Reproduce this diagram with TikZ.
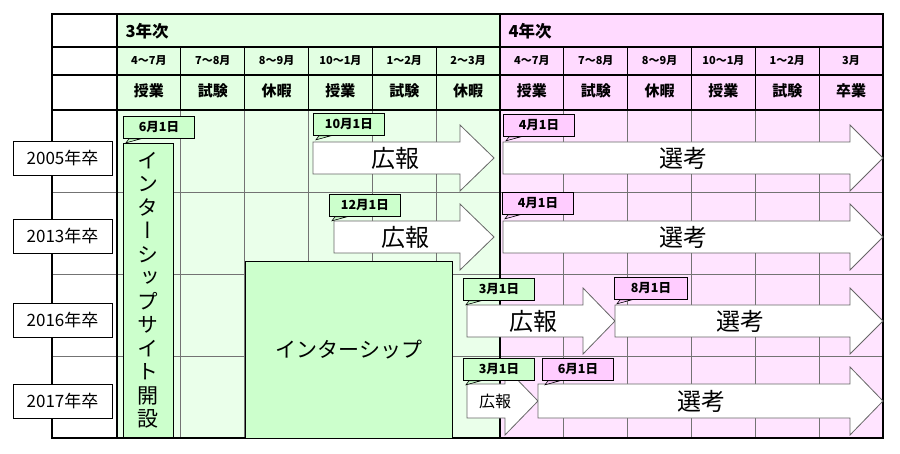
\documentclass[tikz,border=0pt]{standalone}
\usepackage{fontspec}
\setmainfont{Noto Sans CJK JP}
\newfontfamily\vfont[RawFeature=+vert]{Noto Sans CJK JP}
\usetikzlibrary{calc}

\definecolor{grnhead}{RGB}{226,255,226}
\definecolor{grnbody}{RGB}{234,255,234}
\definecolor{pnkhead}{RGB}{255,218,255}
\definecolor{pnkbody}{RGB}{255,228,255}
\definecolor{grnbox}{RGB}{204,255,204}
\definecolor{pnkbox}{RGB}{255,204,255}

\begin{document}
\begin{tikzpicture}[x=1pt,y=-1pt,
    hline/.style={line width=1.2pt},
    gline/.style={black!55,line width=0.7pt},
    arrowbox/.style={draw=black!60,fill=white,line width=0.8pt},
    tag/.style={draw=black,line width=0.8pt,minimum width=71pt,minimum height=22pt,inner sep=0pt,anchor=north west,font=\fontsize{12.5}{13}\selectfont\bfseries},
    tagg/.style={tag,fill=grnbox},
    tagp/.style={tag,fill=pnkbox},
    yearbox/.style={draw=black,fill=white,line width=0.8pt,minimum width=99pt,minimum height=34pt,inner sep=0pt,font=\fontsize{17}{19}\selectfont},
    bigtext/.style={font=\fontsize{24}{26}\selectfont}]
    \useasboundingbox (0,0) rectangle (900,454);

    % backgrounds
    \fill[grnhead] (117,14) rectangle (500,110);
    \fill[grnbody] (117,110) rectangle (500,438);
    \fill[pnkhead] (500,14) rectangle (883,110);
    \fill[pnkbody] (500,110) rectangle (883,438);

    % grid of the year rows
    \foreach \i in {1,...,11}
        \draw[gline] ({117+63.833*\i},110) -- ({117+63.833*\i},438);
    \foreach \y in {192,274,356}
        \draw[gline] (52,\y) -- (883,\y);

    % header lines
    \foreach \y in {47,75,110}
        \draw[hline] (52,\y) -- (883,\y);
    \foreach \i in {1,...,11}
        \draw[hline] ({117+63.833*\i},47) -- ({117+63.833*\i},110);
    \draw[hline] (117,14) -- (117,438);
    \draw[hline] (500,14) -- (500,438);
    \draw[hline] (52,14) rectangle (883,438);

    \node[anchor=west,font=\fontsize{16.5}{18}\selectfont\bfseries] (yr3) at (122,31) {3年次};
    \node[anchor=west,font=\fontsize{16.5}{18}\selectfont\bfseries] (yr4) at (505,31) {4年次};
    \foreach \m [count=\i] in {4〜7月,7〜8月,8〜9月,10〜1月,1〜2月,2〜3月,4〜7月,7〜8月,8〜9月,10〜1月,1〜2月,3月}
        \node[font=\fontsize{11}{12}\selectfont\bfseries] (mon\i) at ({117+63.833*(\i-0.5)},61) {\m};
    \foreach \a [count=\i] in {授業,試験,休暇,授業,試験,休暇,授業,試験,休暇,授業,試験,卒業}
        \node[font=\fontsize{15}{16}\selectfont\bfseries] (act\i) at ({117+63.833*(\i-0.5)},91) {\a};

    % green boxes
    \node[draw=black,fill=grnbox,line width=0.8pt,anchor=north west,minimum width=50pt,minimum height=294pt,inner sep=0pt] (site) at (123,143) {};
    \node[font=\vfont\fontsize{21}{23.5}\selectfont,align=center] (sitetxt) at (site) {イ\\ン\\タ\\ー\\シ\\ッ\\プ\\サ\\イ\\ト\\開\\設};
    \node[draw=black,fill=grnbox,line width=0.8pt,anchor=north west,minimum width=207pt,minimum height=177pt,inner sep=0pt,font=\fontsize{21}{23}\selectfont] (intern) at (245,261) {インターシップ};

    % 2005
    \draw[arrowbox] (313,142) -- (460,142) -- (460,125) -- (494,158) -- (460,191) -- (460,174) -- (313,174) -- cycle;
    \node[bigtext] (pr05) at (395,158) {広報};
    \draw[arrowbox] (503,142) -- (850,142) -- (850,125) -- (883,158) -- (850,191) -- (850,174) -- (503,174) -- cycle;
    \node[bigtext] (sel05) at (683,158) {選考};
    % 2013
    \draw[arrowbox] (334,221) -- (460,221) -- (460,204) -- (494,237) -- (460,270) -- (460,253) -- (334,253) -- cycle;
    \node[bigtext] (pr13) at (405,237) {広報};
    \draw[arrowbox] (503,221) -- (850,221) -- (850,204) -- (883,237) -- (850,270) -- (850,253) -- (503,253) -- cycle;
    \node[bigtext] (sel13) at (683,237) {選考};
    % 2016
    \draw[arrowbox] (467,305) -- (583,305) -- (583,288) -- (615,321) -- (583,354) -- (583,337) -- (467,337) -- cycle;
    \node[bigtext] (pr16) at (533,321) {広報};
    \draw[arrowbox] (615,305) -- (850,305) -- (850,288) -- (883,321) -- (850,354) -- (850,337) -- (615,337) -- cycle;
    \node[bigtext] (sel16) at (740,321) {選考};
    % 2017
    \draw[arrowbox] (467,384) -- (505,384) -- (505,367) -- (538,401) -- (505,435) -- (505,418) -- (467,418) -- cycle;
    \node[font=\fontsize{16}{18}\selectfont] (pr17) at (495,401) {広報};
    \draw[arrowbox] (538,384) -- (850,384) -- (850,367) -- (883,401) -- (850,435) -- (850,418) -- (538,418) -- cycle;
    \node[bigtext] (sel17) at (701,401) {選考};

    % date tags
    \node[tagg] (d1) at (123,116) {6月1日};
    \node[tagg] (d2) at (313,113) {10月1日};
    \node[tagp] (d3) at (503,114) {4月1日};
    \node[tagg] (d4) at (329,194) {12月1日};
    \node[tagp] (d5) at (502,192) {4月1日};
    \node[tagg] (d6) at (463,278) {3月1日};
    \node[tagp, minimum width=73pt] (d7) at (614,277) {8月1日};
    \node[tagg] (d8) at (463,358) {3月1日};
    \node[tagp] (d9) at (542,358) {6月1日};
    \foreach \d/\c in {d1/grnbox,d2/grnbox,d3/pnkbox,d4/grnbox,d5/pnkbox,d6/grnbox,d7/pnkbox,d8/grnbox,d9/pnkbox}
        \draw[fill=\c,line width=0.6pt] ([xshift=6pt]\d.south west) -- ([xshift=18pt]\d.south west) -- ([xshift=3pt,yshift=-4pt]\d.south west) -- cycle;

    % year labels
    \node[yearbox] (g05) at (62.5,158) {2005年卒};
    \node[yearbox] (g13) at (62.5,236.5) {2013年卒};
    \node[yearbox] (g16) at (62.5,320.5) {2016年卒};
    \node[yearbox] (g17) at (62.5,401) {2017年卒};
\end{tikzpicture}
\end{document}
